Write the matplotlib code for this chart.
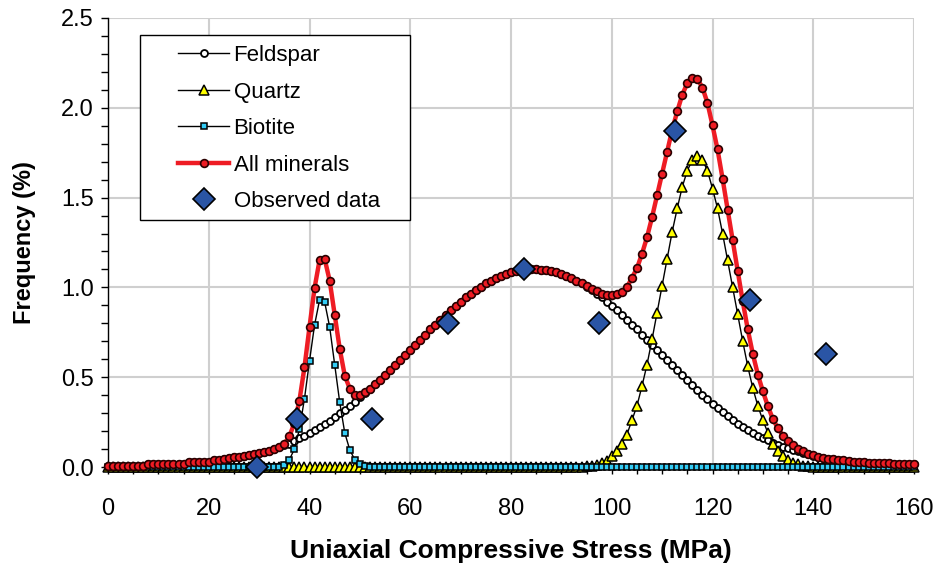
import matplotlib
matplotlib.use("Agg")
import matplotlib.pyplot as plt
from matplotlib.patches import Rectangle
from matplotlib.ticker import MultipleLocator, FormatStrFormatter

plt.rcParams['font.family'] = ['Liberation Sans', 'DejaVu Sans']

# stress bins (MPa), one point per 1 MPa
stress = list(range(0, 161))

feldspar = [
    0.005, 0.005, 0.005, 0.005, 0.005, 0.005, 0.005, 0.005, 0.015, 0.015,
    0.015, 0.015, 0.015, 0.015, 0.015, 0.015, 0.028, 0.028, 0.028, 0.028,
    0.030, 0.038, 0.041, 0.044, 0.048, 0.054, 0.058, 0.062, 0.068, 0.074,
    0.078, 0.084, 0.091, 0.100, 0.110, 0.120, 0.130, 0.145, 0.160, 0.175,
    0.190, 0.206, 0.222, 0.240, 0.258, 0.278, 0.298, 0.319, 0.341, 0.363,
    0.387, 0.411, 0.436, 0.461, 0.487, 0.513, 0.540, 0.568, 0.596, 0.624,
    0.653, 0.681, 0.709, 0.737, 0.766, 0.793, 0.820, 0.847, 0.872, 0.897,
    0.921, 0.944, 0.966, 0.986, 1.005, 1.022, 1.038, 1.052, 1.065, 1.075,
    1.084, 1.091, 1.096, 1.099, 1.100, 1.100, 1.099, 1.096, 1.091, 1.084,
    1.075, 1.065, 1.052, 1.038, 1.022, 1.005, 0.986, 0.966, 0.944, 0.921,
    0.897, 0.872, 0.847, 0.820, 0.793, 0.766, 0.737, 0.709, 0.681, 0.653,
    0.624, 0.596, 0.568, 0.540, 0.513, 0.487, 0.458, 0.430, 0.403, 0.377,
    0.352, 0.328, 0.305, 0.283, 0.262, 0.242, 0.223, 0.206, 0.190, 0.175,
    0.161, 0.148, 0.136, 0.125, 0.114, 0.104, 0.095, 0.087, 0.079, 0.071,
    0.064, 0.058, 0.052, 0.047, 0.042, 0.040, 0.038, 0.035, 0.030, 0.028,
    0.026, 0.025, 0.024, 0.022, 0.020, 0.020, 0.018, 0.018, 0.017, 0.017,
    0.016,
]

quartz = [0.0] * 95 + [
    0.003, 0.007, 0.013, 0.020, 0.035, 0.060, 0.090, 0.130, 0.180, 0.260,
    0.340, 0.450, 0.570, 0.710, 0.860, 1.010, 1.160, 1.310, 1.440, 1.560,
    1.650, 1.710, 1.730, 1.710, 1.650, 1.550, 1.440, 1.300, 1.150, 1.000,
    0.850, 0.700, 0.560, 0.440, 0.340, 0.260, 0.190, 0.130, 0.090, 0.060,
    0.040, 0.025, 0.015, 0.008, 0.004, 0.002,
] + [0.0] * 20

biotite = [0.0] * 34 + [
    0.002, 0.010, 0.040, 0.100, 0.210, 0.380, 0.590, 0.790, 0.930, 0.920,
    0.780, 0.570, 0.360, 0.190, 0.095, 0.040, 0.015, 0.005,
] + [0.0] * 109

all_minerals = [
    0.005, 0.005, 0.005, 0.005, 0.005, 0.005, 0.005, 0.005, 0.015, 0.015,
    0.015, 0.015, 0.015, 0.015, 0.015, 0.015, 0.028, 0.028, 0.028, 0.028,
    0.030, 0.038, 0.041, 0.044, 0.048, 0.054, 0.058, 0.062, 0.068, 0.074,
    0.078, 0.084, 0.091, 0.100, 0.112, 0.130, 0.170, 0.245, 0.370, 0.555,
    0.780, 0.996, 1.152, 1.160, 1.038, 0.848, 0.658, 0.509, 0.436, 0.403,
    0.402, 0.416, 0.436, 0.461, 0.487, 0.513, 0.540, 0.568, 0.596, 0.624,
    0.653, 0.681, 0.709, 0.737, 0.766, 0.793, 0.820, 0.847, 0.872, 0.897,
    0.921, 0.944, 0.966, 0.986, 1.005, 1.022, 1.038, 1.052, 1.065, 1.075,
    1.084, 1.091, 1.096, 1.099, 1.100, 1.100, 1.099, 1.096, 1.091, 1.084,
    1.075, 1.065, 1.052, 1.038, 1.022, 1.008, 0.993, 0.979, 0.964, 0.956,
    0.957, 0.962, 0.977, 1.000, 1.053, 1.106, 1.187, 1.279, 1.391, 1.513,
    1.634, 1.756, 1.878, 1.980, 2.073, 2.137, 2.168, 2.160, 2.113, 2.027,
    1.902, 1.768, 1.605, 1.433, 1.262, 1.092, 0.923, 0.766, 0.630, 0.515,
    0.421, 0.338, 0.266, 0.215, 0.174, 0.144, 0.120, 0.102, 0.087, 0.075,
    0.066, 0.058, 0.052, 0.047, 0.042, 0.040, 0.038, 0.035, 0.030, 0.028,
    0.026, 0.025, 0.024, 0.022, 0.020, 0.020, 0.018, 0.018, 0.017, 0.017,
    0.016,
]

obs_stress = [29.5, 37.5, 52.5, 67.5, 82.5, 97.5, 112.5, 127.5, 142.5]
obs_freq = [0.0, 0.27, 0.27, 0.80, 1.10, 0.80, 1.87, 0.93, 0.63]

fig = plt.figure(figsize=(9.42, 5.71), dpi=100)
ax = fig.add_axes([108/942, 1-467/571, 806/942, 449/571])

ax.plot(stress, feldspar, color='black', lw=1.0, marker='o', ms=5.0,
        mfc='white', mec='black', mew=1.3, label='Feldspar', clip_on=False, zorder=3)
ax.plot(stress, quartz, color='black', lw=1.0, marker='^', ms=6.5,
        mfc='#ffff00', mec='black', mew=1.1, label='Quartz', clip_on=False, zorder=4)
ax.plot(stress, biotite, color='black', lw=1.0, marker='s', ms=5.0,
        mfc='#33ccf5', mec='black', mew=1.1, label='Biotite', clip_on=False, zorder=5)
ax.plot(stress, all_minerals, color='#ee1c24', lw=3.2, marker='o', ms=5.6,
        mfc='#ee1c24', mec='#2a0000', mew=1.2, label='All minerals', clip_on=False, zorder=6)
ax.plot(obs_stress, obs_freq, ls='none', marker='D', ms=11.5,
        mfc='#2a55a5', mec='black', mew=1.2, label='Observed data', clip_on=False, zorder=7)

ax.set_xlim(0, 160)
ax.set_ylim(0, 2.5)
ax.xaxis.set_major_locator(MultipleLocator(20))
ax.xaxis.set_minor_locator(MultipleLocator(5))
ax.yaxis.set_major_locator(MultipleLocator(0.5))
ax.yaxis.set_minor_locator(MultipleLocator(0.1))
ax.yaxis.set_major_formatter(FormatStrFormatter('%.1f'))
ax.tick_params(which='both', direction='out', length=5, width=1, color='black')
ax.tick_params(axis='y', labelsize=17, pad=5)
ax.tick_params(axis='x', labelsize=17, pad=17)
ax.grid(True, which='major', color='#cfcfcf', lw=1.5)
ax.set_axisbelow(True)
for s in ['top', 'right']:
    ax.spines[s].set_visible(False)
for s in ['left', 'bottom']:
    ax.spines[s].set_linewidth(1.0)

ax.set_xlabel('Uniaxial Compressive Stress (MPa)', fontsize=19, fontweight='bold', labelpad=14)
ax.set_ylabel('Frequency (%)', fontsize=17, fontweight='bold', labelpad=18)

# legend box drawn by hand, entries placed inside it
ax.add_patch(Rectangle((32/806, (467-220)/449), 270/806, 185/449,
                       transform=ax.transAxes, facecolor='white',
                       edgecolor='black', lw=1.0, zorder=8))
leg = ax.legend(loc='upper left', bbox_to_anchor=(70/806, (467-45)/449),
                frameon=False, fontsize=16, numpoints=1, handlelength=2.3,
                handletextpad=0.2, labelspacing=0.7, borderpad=0, borderaxespad=0)
leg.set_zorder(9)

fig.savefig('out.png', dpi=100)
